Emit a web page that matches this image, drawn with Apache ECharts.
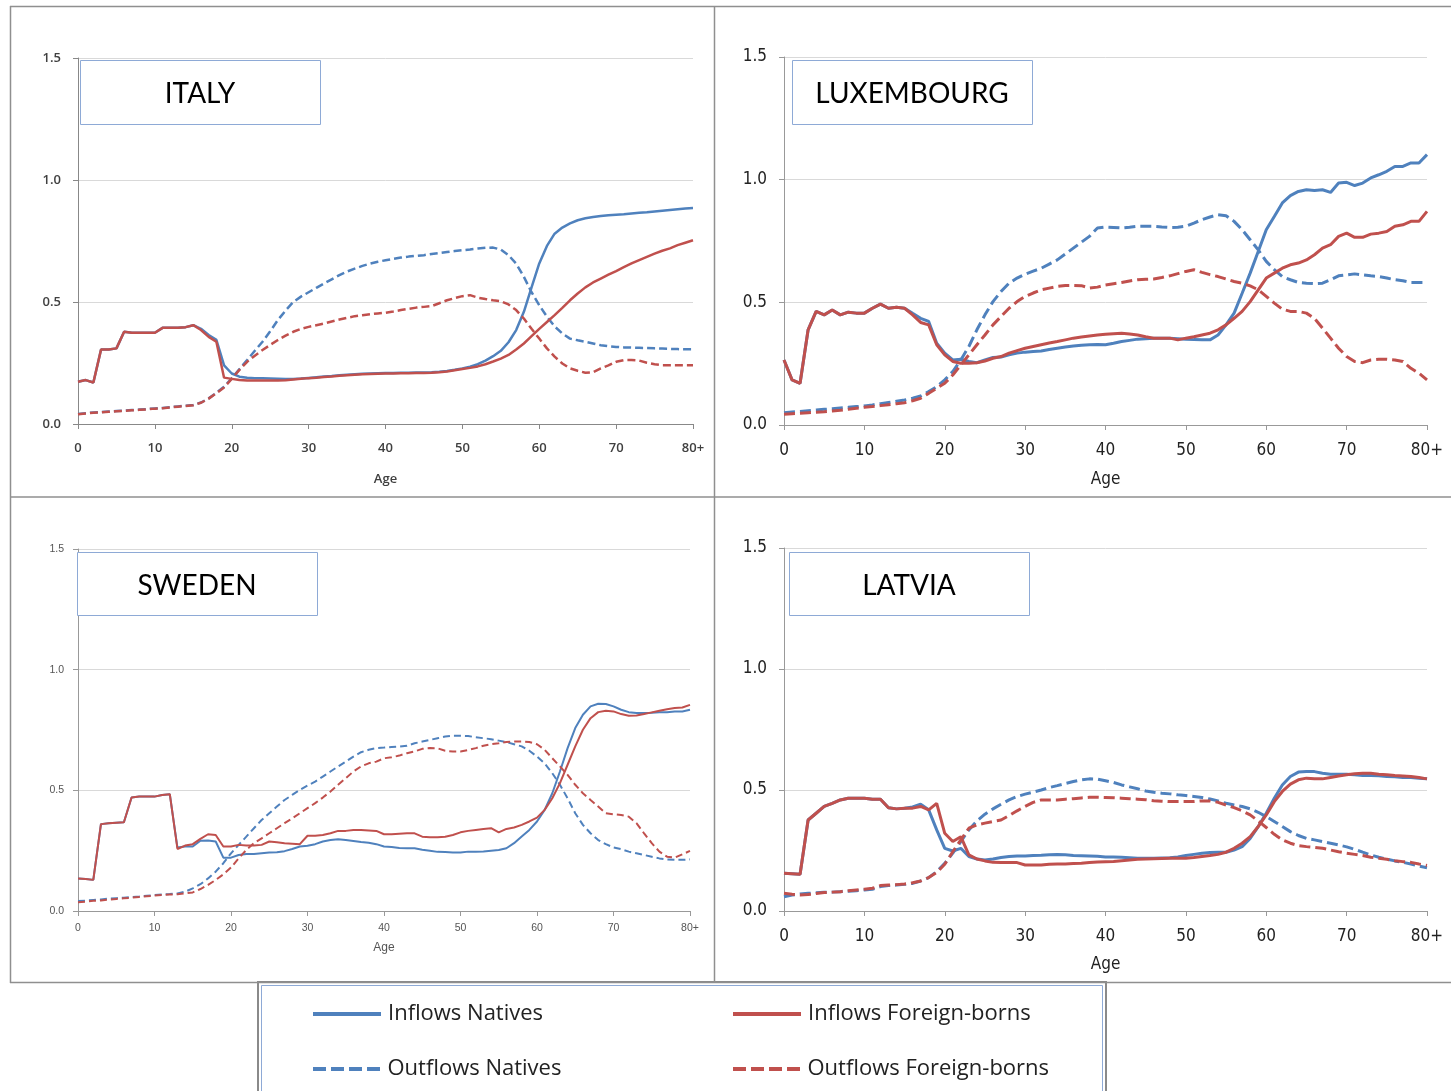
<!DOCTYPE html>
<html><head><meta charset="utf-8">
<script src="https://cdn.jsdelivr.net/npm/echarts@6/dist/echarts.min.js"></script>
<style>html,body{margin:0;padding:0;background:#fff}#c{width:1451px;height:1091px}</style>
</head><body><div id="c"></div>
<script>
// Ages 0..80 (80 = 80+)
const ages = Array.from({length: 81}, (_, i) => i);
const xTickLabels = ['0','10','20','30','40','50','60','70','80+'];
const seriesNames = ['Inflows Natives','Inflows Foreign-borns','Outflows Natives','Outflows Foreign-borns'];
const countries = ['ITALY','LUXEMBOURG','SWEDEN','LATVIA'];

// ITALY
const italyInNat = [
 0.173,0.18,0.17,0.305,0.305,0.31,0.378,0.374,0.374,0.374,
 0.374,0.394,0.394,0.394,0.397,0.405,0.39,0.365,0.345,0.24,
 0.207,0.194,0.19,0.188,0.187,0.186,0.185,0.184,0.184,0.186,
 0.189,0.192,0.195,0.197,0.2,0.202,0.204,0.206,0.207,0.208,
 0.209,0.209,0.21,0.21,0.211,0.211,0.212,0.214,0.217,0.222,
 0.228,0.235,0.245,0.26,0.278,0.3,0.335,0.385,0.46,0.56,
 0.658,0.73,0.78,0.805,0.822,0.835,0.843,0.848,0.852,0.856,
 0.858,0.86,0.863,0.866,0.868,0.871,0.874,0.877,0.88,0.883,0.885];
const italyInFor = [
 0.173,0.18,0.17,0.305,0.305,0.31,0.378,0.374,0.374,0.374,
 0.374,0.394,0.394,0.394,0.397,0.405,0.385,0.357,0.337,0.19,
 0.185,0.18,0.178,0.178,0.178,0.178,0.178,0.179,0.182,0.185,
 0.188,0.19,0.193,0.195,0.198,0.2,0.202,0.204,0.205,0.206,
 0.207,0.207,0.208,0.208,0.209,0.209,0.21,0.212,0.215,0.22,
 0.225,0.23,0.236,0.245,0.256,0.268,0.283,0.305,0.33,0.36,
 0.39,0.418,0.446,0.476,0.507,0.535,0.56,0.58,0.596,0.612,
 0.627,0.643,0.658,0.672,0.685,0.698,0.71,0.72,0.733,0.743,0.753];
const italyOutNat = [
 0.041,0.044,0.047,0.049,0.051,0.053,0.055,0.057,0.059,0.061,
 0.064,0.066,0.069,0.072,0.075,0.078,0.088,0.105,0.128,0.153,
 0.187,0.225,0.262,0.3,0.337,0.38,0.426,0.465,0.5,0.522,
 0.54,0.558,0.576,0.593,0.61,0.625,0.637,0.648,0.657,0.665,
 0.671,0.677,0.682,0.686,0.689,0.692,0.697,0.701,0.705,0.709,
 0.712,0.715,0.719,0.722,0.723,0.715,0.692,0.657,0.603,0.54,
 0.487,0.44,0.4,0.371,0.35,0.343,0.337,0.33,0.323,0.319,
 0.316,0.314,0.313,0.312,0.311,0.31,0.309,0.308,0.307,0.306,0.306];
const italyOutFor = [
 0.04,0.043,0.046,0.048,0.05,0.052,0.054,0.056,0.058,0.06,
 0.063,0.065,0.068,0.071,0.074,0.077,0.087,0.104,0.126,0.15,
 0.185,0.222,0.255,0.28,0.303,0.324,0.344,0.362,0.378,0.39,
 0.398,0.405,0.412,0.42,0.428,0.435,0.442,0.446,0.45,0.453,
 0.456,0.461,0.467,0.472,0.477,0.48,0.483,0.495,0.507,0.516,
 0.524,0.528,0.518,0.512,0.507,0.503,0.49,0.467,0.432,0.39,
 0.35,0.31,0.276,0.248,0.228,0.218,0.21,0.212,0.228,0.24,
 0.255,0.262,0.262,0.26,0.251,0.245,0.241,0.241,0.241,0.241,0.241];

// LUXEMBOURG
const luxInNat = [
 0.265,0.184,0.17,0.388,0.463,0.449,0.469,0.449,0.46,0.456,
 0.456,0.476,0.493,0.476,0.48,0.476,0.455,0.435,0.422,0.333,
 0.293,0.265,0.268,0.259,0.254,0.265,0.275,0.277,0.286,0.293,
 0.297,0.3,0.302,0.308,0.313,0.318,0.322,0.325,0.327,0.328,
 0.327,0.333,0.34,0.345,0.35,0.352,0.354,0.354,0.354,0.352,
 0.35,0.348,0.347,0.347,0.367,0.408,0.456,0.537,0.619,0.707,
 0.796,0.85,0.905,0.935,0.952,0.959,0.956,0.959,0.948,0.986,
 0.989,0.976,0.986,1.007,1.02,1.034,1.054,1.054,1.068,1.068,1.102];
const luxInFor = [
 0.265,0.184,0.17,0.388,0.463,0.449,0.469,0.449,0.46,0.456,
 0.456,0.476,0.493,0.476,0.48,0.476,0.449,0.418,0.408,0.327,
 0.286,0.259,0.252,0.252,0.254,0.261,0.272,0.279,0.293,0.303,
 0.313,0.32,0.327,0.334,0.34,0.347,0.354,0.359,0.363,0.367,
 0.37,0.372,0.374,0.371,0.367,0.36,0.354,0.354,0.354,0.347,
 0.354,0.36,0.367,0.374,0.388,0.408,0.435,0.463,0.503,0.551,
 0.599,0.619,0.639,0.653,0.66,0.673,0.694,0.721,0.735,0.769,
 0.782,0.765,0.765,0.778,0.782,0.789,0.81,0.816,0.83,0.83,0.871];
const luxOutNat = [
 0.05,0.053,0.055,0.058,0.061,0.064,0.066,0.069,0.072,0.075,
 0.078,0.082,0.087,0.092,0.097,0.102,0.109,0.118,0.136,0.156,
 0.184,0.218,0.265,0.32,0.388,0.449,0.503,0.544,0.578,0.599,
 0.615,0.627,0.639,0.656,0.673,0.697,0.721,0.745,0.769,0.803,
 0.807,0.805,0.803,0.806,0.81,0.81,0.81,0.807,0.805,0.806,
 0.81,0.823,0.837,0.848,0.857,0.853,0.83,0.796,0.755,0.714,
 0.667,0.633,0.605,0.592,0.581,0.578,0.576,0.578,0.592,0.608,
 0.612,0.616,0.612,0.608,0.605,0.599,0.592,0.588,0.581,0.581,0.581];
const luxOutFor = [
 0.044,0.046,0.048,0.05,0.052,0.054,0.057,0.06,0.064,0.068,
 0.072,0.075,0.079,0.083,0.087,0.091,0.099,0.109,0.129,0.15,
 0.17,0.204,0.245,0.286,0.327,0.367,0.408,0.442,0.476,0.503,
 0.524,0.538,0.551,0.558,0.565,0.569,0.569,0.568,0.558,0.562,
 0.571,0.576,0.581,0.587,0.592,0.594,0.595,0.601,0.608,0.617,
 0.626,0.633,0.622,0.613,0.605,0.595,0.585,0.578,0.567,0.551,
 0.524,0.497,0.472,0.463,0.463,0.456,0.435,0.395,0.354,0.313,
 0.279,0.259,0.254,0.265,0.268,0.268,0.265,0.259,0.231,0.211,0.184];

// SWEDEN
const sweInNat = [
 0.135,0.133,0.129,0.36,0.364,0.366,0.368,0.47,0.474,0.474,
 0.474,0.481,0.484,0.263,0.267,0.267,0.291,0.292,0.288,0.221,
 0.221,0.232,0.236,0.236,0.239,0.242,0.243,0.248,0.257,0.267,
 0.27,0.277,0.288,0.294,0.297,0.294,0.29,0.286,0.283,0.277,
 0.267,0.265,0.261,0.26,0.26,0.254,0.25,0.245,0.244,0.242,
 0.242,0.246,0.246,0.247,0.25,0.253,0.26,0.281,0.309,0.336,
 0.371,0.419,0.488,0.578,0.675,0.758,0.813,0.848,0.859,0.858,
 0.848,0.834,0.824,0.82,0.82,0.821,0.824,0.824,0.827,0.827,0.834];
const sweInFor = [
 0.135,0.133,0.129,0.36,0.364,0.366,0.368,0.47,0.474,0.474,
 0.474,0.481,0.484,0.257,0.271,0.277,0.299,0.318,0.315,0.267,
 0.267,0.274,0.271,0.271,0.274,0.288,0.285,0.281,0.279,0.277,
 0.312,0.312,0.315,0.322,0.332,0.332,0.336,0.336,0.334,0.332,
 0.318,0.318,0.32,0.322,0.322,0.308,0.306,0.306,0.308,0.315,
 0.326,0.332,0.336,0.34,0.343,0.326,0.34,0.346,0.357,0.371,
 0.387,0.419,0.467,0.53,0.606,0.682,0.751,0.799,0.824,0.83,
 0.827,0.816,0.809,0.81,0.816,0.823,0.83,0.836,0.841,0.843,0.854];
const sweOutNat = [
 0.041,0.043,0.046,0.048,0.051,0.053,0.055,0.058,0.06,0.063,
 0.066,0.068,0.07,0.073,0.08,0.094,0.111,0.135,0.163,0.198,
 0.239,0.274,0.308,0.343,0.377,0.405,0.433,0.46,0.481,0.502,
 0.52,0.536,0.557,0.578,0.599,0.619,0.64,0.658,0.668,0.675,
 0.677,0.68,0.681,0.685,0.695,0.702,0.709,0.716,0.723,0.726,
 0.726,0.725,0.72,0.716,0.712,0.706,0.7,0.691,0.682,0.664,
 0.64,0.612,0.571,0.523,0.467,0.405,0.357,0.322,0.294,0.277,
 0.263,0.256,0.246,0.239,0.232,0.225,0.218,0.214,0.212,0.212,0.214];
const sweOutFor = [
 0.036,0.039,0.042,0.044,0.047,0.05,0.053,0.055,0.058,0.061,
 0.064,0.066,0.068,0.069,0.073,0.077,0.091,0.108,0.129,0.152,
 0.18,0.218,0.253,0.281,0.301,0.322,0.343,0.364,0.384,0.405,
 0.426,0.447,0.47,0.495,0.523,0.55,0.578,0.599,0.612,0.619,
 0.633,0.637,0.644,0.654,0.661,0.672,0.675,0.674,0.664,0.661,
 0.661,0.667,0.675,0.685,0.691,0.695,0.7,0.702,0.702,0.7,
 0.691,0.668,0.633,0.599,0.564,0.523,0.488,0.46,0.433,0.405,
 0.401,0.398,0.391,0.364,0.322,0.281,0.246,0.225,0.221,0.235,0.249];

// LATVIA
const latInNat = [
 0.156,0.154,0.152,0.376,0.404,0.432,0.445,0.459,0.466,0.466,
 0.466,0.462,0.462,0.427,0.422,0.425,0.43,0.441,0.418,0.335,
 0.259,0.248,0.259,0.225,0.215,0.211,0.215,0.221,0.225,0.227,
 0.227,0.229,0.23,0.232,0.233,0.232,0.229,0.228,0.227,0.226,
 0.223,0.223,0.222,0.22,0.218,0.218,0.218,0.219,0.22,0.223,
 0.229,0.234,0.239,0.242,0.243,0.243,0.252,0.266,0.3,0.349,
 0.404,0.466,0.521,0.556,0.574,0.576,0.576,0.569,0.565,0.565,
 0.565,0.563,0.56,0.56,0.559,0.556,0.555,0.552,0.552,0.549,0.546];
const latInFor = [
 0.156,0.154,0.152,0.376,0.404,0.432,0.445,0.459,0.466,0.466,
 0.466,0.462,0.462,0.427,0.422,0.425,0.425,0.432,0.418,0.445,
 0.321,0.287,0.307,0.232,0.215,0.207,0.201,0.2,0.2,0.2,
 0.19,0.19,0.19,0.193,0.194,0.194,0.196,0.197,0.2,0.202,
 0.204,0.205,0.208,0.211,0.214,0.215,0.216,0.217,0.218,0.218,
 0.218,0.221,0.225,0.229,0.234,0.243,0.259,0.28,0.307,0.349,
 0.397,0.452,0.494,0.524,0.542,0.549,0.546,0.546,0.552,0.558,
 0.563,0.567,0.569,0.569,0.565,0.563,0.56,0.558,0.556,0.552,0.546];
const latOutNat = [
 0.059,0.066,0.07,0.073,0.075,0.077,0.078,0.08,0.082,0.084,
 0.087,0.09,0.101,0.105,0.107,0.11,0.114,0.124,0.138,0.163,
 0.197,0.239,0.287,0.335,0.372,0.4,0.422,0.441,0.459,0.473,
 0.483,0.491,0.5,0.51,0.518,0.527,0.535,0.542,0.546,0.545,
 0.538,0.531,0.521,0.513,0.505,0.496,0.491,0.487,0.484,0.48,
 0.477,0.473,0.469,0.463,0.455,0.445,0.438,0.432,0.422,0.408,
 0.39,0.37,0.349,0.328,0.312,0.3,0.294,0.287,0.28,0.273,
 0.265,0.255,0.243,0.232,0.222,0.214,0.207,0.201,0.194,0.186,0.179];
const latOutFor = [
 0.073,0.069,0.066,0.068,0.072,0.076,0.078,0.08,0.084,0.087,
 0.09,0.094,0.105,0.107,0.109,0.112,0.117,0.124,0.138,0.159,
 0.193,0.245,0.294,0.342,0.356,0.363,0.37,0.376,0.394,0.414,
 0.432,0.449,0.459,0.459,0.459,0.462,0.464,0.467,0.47,0.47,
 0.469,0.468,0.466,0.464,0.462,0.46,0.456,0.454,0.452,0.452,
 0.452,0.452,0.455,0.455,0.449,0.438,0.427,0.414,0.397,0.372,
 0.345,0.317,0.294,0.28,0.27,0.266,0.263,0.259,0.252,0.245,
 0.239,0.234,0.229,0.222,0.218,0.214,0.208,0.204,0.201,0.194,0.188];

const BLUE = '#4f81bd', RED = '#c0504d';
const narrow = "'Liberation Sans Narrow','DejaVu Sans Condensed','Roboto',sans-serif";

const panels = [
  {title: countries[0], data: [italyInNat, italyOutNat, italyInFor, italyOutFor],
   grid: {left: 78, top: 58, width: 615, height: 366}, lw: 2.5, dash: [8, 4],
   font: "'Open Sans',sans-serif", fs: 13, fw: 600, fc: '#404040', xm: 18, ym: 17, gap: 49, ns: 13,
   box: [80, 60, 240, 64], tx: 200, ty: 94, axisColor: '#888'},
  {title: countries[1], data: [luxInNat, luxOutNat, luxInFor, luxOutFor],
   grid: {left: 784, top: 57, width: 643, height: 368}, lw: 3, dash: [11, 5],
   font: narrow, fs: 17, fw: 'normal', fc: '#222', xm: 17, ym: 17, gap: 46, ns: 17,
   box: [792, 60, 240, 64], tx: 912, ty: 94, axisColor: '#999'},
  {title: countries[2], data: [sweInNat, sweOutNat, sweInFor, sweOutFor],
   grid: {left: 78, top: 549, width: 612, height: 362}, lw: 2, dash: [7, 4],
   font: "'Liberation Sans',sans-serif", fs: 10.5, fw: 'normal', fc: '#555', xm: 12, ym: 14, gap: 31, ns: 12,
   box: [77, 552, 240, 63], tx: 197, ty: 586, axisColor: '#999'},
  {title: countries[3], data: [latInNat, latOutNat, latInFor, latOutFor],
   grid: {left: 784, top: 548, width: 643, height: 363}, lw: 3, dash: [11, 5],
   font: narrow, fs: 17, fw: 'normal', fc: '#222', xm: 17, ym: 17, gap: 45, ns: 17,
   box: [789, 552, 240, 63], tx: 909, ty: 586, axisColor: '#999'}
];

const grids = [], xAxes = [], yAxes = [], series = [], graphics = [];
// order inside each panel: Inflows Natives, Outflows Natives, Inflows Foreign, Outflows Foreign
const order = [
  {name: seriesNames[0], color: BLUE, dashed: false},
  {name: seriesNames[2], color: BLUE, dashed: true},
  {name: seriesNames[1], color: RED, dashed: false},
  {name: seriesNames[3], color: RED, dashed: true}
];

panels.forEach((p, gi) => {
  grids.push(Object.assign({containLabel: false}, p.grid));
  const lbl = {fontFamily: p.font, fontSize: p.fs, fontWeight: p.fw, color: p.fc};
  xAxes.push({
    gridIndex: gi, type: 'value', min: 0, max: 80, interval: 10,
    name: 'Age', nameLocation: 'middle', nameGap: p.gap,
    nameTextStyle: {fontFamily: p.font, fontSize: p.ns, fontWeight: p.fw, color: p.fc},
    axisLine: {show: true, lineStyle: {color: p.axisColor, width: 1}},
    axisTick: {show: true, length: 5, inside: false, lineStyle: {color: p.axisColor}},
    splitLine: {show: false},
    axisLabel: Object.assign({margin: p.xm, formatter: v => xTickLabels[Math.round(v / 10)]}, lbl)
  });
  yAxes.push({
    gridIndex: gi, type: 'value', min: 0, max: 1.5, interval: 0.5,
    axisLine: {show: true, lineStyle: {color: p.axisColor, width: 1}},
    axisTick: {show: true, length: 5, lineStyle: {color: p.axisColor}},
    splitLine: {show: true, lineStyle: {color: '#d9d9d9', width: 1}},
    axisLabel: Object.assign({margin: p.ym, formatter: v => v.toFixed(1)}, lbl)
  });
  order.forEach((o, k) => {
    const arr = p.data[k];
    series.push({
      name: o.name, type: 'line', xAxisIndex: gi, yAxisIndex: gi,
      data: ages.map((a, i) => [a, arr[i]]),
      symbol: 'none', smooth: false, silent: true, animation: false,
      lineStyle: {color: o.color, width: p.lw, type: o.dashed ? p.dash : 'solid'},
      itemStyle: {color: o.color}, z: 2 + k
    });
  });
  graphics.push({type: 'rect', shape: {x: p.box[0] + 0.5, y: p.box[1] + 0.5, width: p.box[2], height: p.box[3]},
    style: {fill: '#fff', stroke: '#8eaad6', lineWidth: 1}, z: 100});
  graphics.push({type: 'text', x: p.tx, y: p.ty, z: 101,
    style: {text: p.title, fontFamily: "Lato,'Open Sans',sans-serif", fontSize: 28, fill: '#000',
      align: 'center', verticalAlign: 'middle'}});
});

// panel frames
const frameLines = [
  [10, 6.5, 1451, 6.5], [10.5, 6, 10.5, 983], [714.5, 6, 714.5, 983],
  [10, 497, 1451, 497], [10, 982.5, 1451, 982.5]
];
frameLines.forEach(l => graphics.push({type: 'line', shape: {x1: l[0], y1: l[1], x2: l[2], y2: l[3]},
  style: {stroke: '#8f8f8f', lineWidth: 1.5}, z: 90}));
// legend box
graphics.push({type: 'rect', shape: {x: 258, y: 982, width: 848, height: 130},
  style: {fill: '#fff', stroke: '#8a8a8a', lineWidth: 2}, z: 0});
graphics.push({type: 'rect', shape: {x: 261.5, y: 985.5, width: 841, height: 130},
  style: {fill: 'none', stroke: '#8eaad6', lineWidth: 1}, z: 1});

const solidIcon = 'path://M0,0H68V4H0Z';
const dashIcon = 'path://M0,0H13V4H0Z M18,0H31V4H18Z M36,0H49V4H36Z M54,0H67V4H54Z';
const legendBase = {
  orient: 'horizontal', itemWidth: 68, itemHeight: 4, itemGap: 10, padding: 0,
  selectedMode: false,
  textStyle: {fontFamily: "'Open Sans',Lato,sans-serif", fontSize: 22, color: '#222', padding: [0, 0, 0, 2]}
};
const legends = [
  Object.assign({}, legendBase, {left: 313, top: 1003, icon: solidIcon, data: [seriesNames[0]]}),
  Object.assign({}, legendBase, {left: 733, top: 1003, icon: solidIcon, data: [seriesNames[1]]}),
  Object.assign({}, legendBase, {left: 313, top: 1058, icon: dashIcon, data: [seriesNames[2]]}),
  Object.assign({}, legendBase, {left: 733, top: 1058, icon: dashIcon, data: [seriesNames[3]]})
];

const chart = echarts.init(document.getElementById('c'), null, {renderer: 'canvas'});
chart.setOption({
  backgroundColor: '#fff',
  animation: false,
  grid: grids, xAxis: xAxes, yAxis: yAxes, series: series,
  legend: legends,
  graphic: {elements: graphics}
});
</script></body></html>
